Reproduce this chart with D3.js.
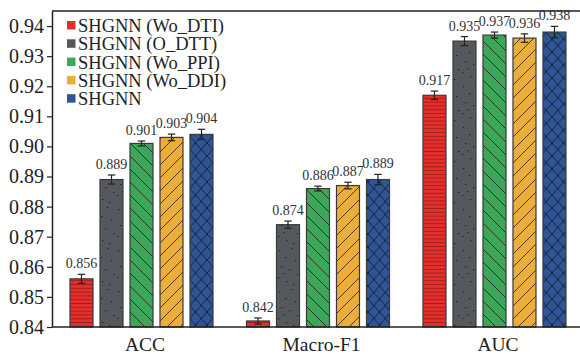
<!DOCTYPE html>
<html>
<head>
<meta charset="utf-8">
<script src="https://cdn.jsdelivr.net/npm/d3@7"></script>
<style>
  body { margin: 0; background: #fff; }
  svg text { font-family: "Liberation Serif", "Times New Roman", Times, serif !important; }
</style>
</head>
<body>
<div id="chart"></div>
<script>
// metrics on the x axis
const categories = ["ACC", "Macro-F1", "AUC"];
const models = ["SHGNN (Wo_DTI)", "SHGNN (O_DTT)", "SHGNN (Wo_PPI)", "SHGNN (Wo_DDI)", "SHGNN"];

// values per model (ACC, Macro-F1, AUC)
const woDTI = [0.856, 0.842, 0.917];
const oDTT = [0.889, 0.874, 0.935];
const woPPI = [0.901, 0.886, 0.937];
const woDDI = [0.903, 0.887, 0.936];
const shgnn = [0.904, 0.889, 0.938];

// error bar half widths
const errWoDTI = [0.0015, 0.0010, 0.0014];
const errODTT = [0.0015, 0.0012, 0.0015];
const errWoPPI = [0.0008, 0.0008, 0.0010];
const errWoDDI = [0.0011, 0.0011, 0.0014];
const errSHGNN = [0.0017, 0.0017, 0.0019];

const yTicks = [0.84, 0.85, 0.86, 0.87, 0.88, 0.89, 0.90, 0.91, 0.92, 0.93, 0.94];

const seriesValues = [woDTI, oDTT, woPPI, woDDI, shgnn];
const seriesErrors = [errWoDTI, errODTT, errWoPPI, errWoDDI, errSHGNN];
const colors = ["#e2302d", "#55595d", "#3da659", "#ebae3b", "#2f5596"];
const patternIds = ["p-hline", "p-dots", "p-back", "p-fwd", "p-cross"];

const W = 580, H = 354;
const margin = { top: 11, left: 52, bottom: 27 };
const plotBottom = H - margin.bottom;
const serif = '"Liberation Serif", "Times New Roman", Times, serif';

const svg = d3.select("#chart").append("svg")
  .attr("width", W).attr("height", H)
  .style("display", "block");

// ---- patterns ----
const defs = svg.append("defs");
// horizontal stripes (red)
let p = defs.append("pattern").attr("id", "p-hline").attr("patternUnits", "userSpaceOnUse")
  .attr("width", 8).attr("height", 3.8);
p.append("rect").attr("width", 8).attr("height", 3.8).attr("fill", colors[0]);
p.append("rect").attr("y", 2.9).attr("width", 8).attr("height", 0.9).attr("fill", "#9e1d1b");
// stipple dots (gray)
p = defs.append("pattern").attr("id", "p-dots").attr("patternUnits", "userSpaceOnUse")
  .attr("width", 23).attr("height", 41);
p.append("rect").attr("width", 23).attr("height", 41).attr("fill", colors[1]);
const dots = [[3, 4], [15, 2], [9, 11], [19, 14], [5, 20], [13, 23], [21, 28], [2, 31], [10, 35], [17, 38], [7, 27]];
dots.forEach(d => p.append("rect").attr("x", d[0]).attr("y", d[1])
  .attr("width", 1.3).attr("height", 1.1).attr("fill", "#1e1f21"));
// "\" diagonals (green)
p = defs.append("pattern").attr("id", "p-back").attr("patternUnits", "userSpaceOnUse")
  .attr("width", 13).attr("height", 13);
p.append("rect").attr("width", 13).attr("height", 13).attr("fill", colors[2]);
p.append("path").attr("d", "M-1,-1 L14,14 M-1,12 L1,14 M12,-1 L14,1")
  .attr("stroke", "#1f2a22").attr("stroke-width", 0.9);
// "/" diagonals (yellow)
p = defs.append("pattern").attr("id", "p-fwd").attr("patternUnits", "userSpaceOnUse")
  .attr("width", 13).attr("height", 13);
p.append("rect").attr("width", 13).attr("height", 13).attr("fill", colors[3]);
p.append("path").attr("d", "M-1,14 L14,-1 M-1,1 L1,-1 M12,14 L14,12")
  .attr("stroke", "#3a2c14").attr("stroke-width", 0.9);
// cross hatch (blue)
p = defs.append("pattern").attr("id", "p-cross").attr("patternUnits", "userSpaceOnUse")
  .attr("width", 11.5).attr("height", 13);
p.append("rect").attr("width", 11.5).attr("height", 13).attr("fill", colors[4]);
p.append("path").attr("d", "M0,0 L11.5,13 M0,13 L11.5,0")
  .attr("stroke", "#131a2a").attr("stroke-width", 0.9);

// ---- scales ----
const x0 = d3.scaleBand().domain(categories)
  .range([margin.left, 591]).paddingInner(0.15).paddingOuter(0.102);
const x1 = d3.scaleBand().domain(d3.range(models.length))
  .range([0, 143]).paddingInner(0.233).paddingOuter(0);
const y = d3.scaleLinear().domain([0.84, 0.945]).range([plotBottom, margin.top]);

// ---- bars ----
const rows = [];
categories.forEach((c, ci) => {
  seriesValues.forEach((vals, si) => {
    rows.push({ cat: c, s: si, v: vals[ci], e: seriesErrors[si][ci] });
  });
});
const cx = d => x0(d.cat) + x1(d.s) + x1.bandwidth() / 2;

const g = svg.append("g");
g.selectAll("rect.bar").data(rows).enter().append("rect")
  .attr("class", "bar")
  .attr("x", d => x0(d.cat) + x1(d.s))
  .attr("y", d => y(d.v))
  .attr("width", x1.bandwidth())
  .attr("height", d => y(0.84) - y(d.v))
  .attr("fill", d => "url(#" + patternIds[d.s] + ")")
  .attr("stroke", "#3a3a3a")
  .attr("stroke-width", 1.2);

// error bars
const eb = g.selectAll("g.err").data(rows).enter().append("g")
  .attr("class", "err")
  .attr("stroke", "#222").attr("stroke-width", 1.2);
eb.append("line")
  .attr("x1", cx).attr("x2", cx)
  .attr("y1", d => y(d.v + d.e)).attr("y2", d => y(d.v - d.e));
[1, -1].forEach(sign => {
  eb.append("line")
    .attr("x1", d => cx(d) - 3.7)
    .attr("x2", d => cx(d) + 3.7)
    .attr("y1", d => y(d.v + sign * d.e)).attr("y2", d => y(d.v + sign * d.e));
});

// value labels
g.selectAll("text.val").data(rows).enter().append("text")
  .attr("class", "val")
  .attr("x", cx)
  .attr("y", d => y(d.v + d.e) - 6)
  .attr("text-anchor", "middle")
  .style("font-family", serif)
  .attr("font-size", 14)
  .attr("fill", "#333")
  .text(d => d3.format(".3f")(d.v));

// ---- axes ----
const yAxis = svg.append("g")
  .attr("transform", `translate(${margin.left},0)`)
  .call(d3.axisLeft(y).tickValues(yTicks).tickFormat(d3.format(".2f")).tickSize(5).tickPadding(3).tickSizeOuter(0));
yAxis.select(".domain").attr("stroke", "#222").attr("stroke-width", 1.5);
yAxis.selectAll(".tick line").attr("stroke", "#222").attr("stroke-width", 1.2);
yAxis.selectAll(".tick text").attr("font-size", 20).attr("fill", "#222")
  .style("font-family", serif);

// category labels under each group
const xAxis = svg.append("g")
  .attr("transform", `translate(0,${plotBottom})`)
  .call(d3.axisBottom(x0).tickSize(0).tickPadding(0).tickSizeOuter(0));
xAxis.select(".domain").remove();
xAxis.selectAll(".tick text").attr("font-size", 19.5).attr("fill", "#222")
  .attr("dy", null).attr("y", 23.5)
  .style("font-family", serif);

// frame lines
svg.append("line").attr("x1", margin.left).attr("x2", W)
  .attr("y1", plotBottom).attr("y2", plotBottom)
  .attr("stroke", "#222").attr("stroke-width", 1.5);
svg.append("line").attr("x1", margin.left).attr("x2", W)
  .attr("y1", margin.top).attr("y2", margin.top)
  .attr("stroke", "#222").attr("stroke-width", 1.5);

// ---- legend ----
const legend = svg.append("g").attr("transform", "translate(67,32)");
const li = legend.selectAll("g").data(models).enter().append("g")
  .attr("transform", (d, i) => `translate(0,${i * 18.3})`);
li.append("rect").attr("x", 0).attr("y", -11).attr("width", 8.5).attr("height", 8.5)
  .attr("fill", (d, i) => colors[i]);
li.append("text").attr("x", 11).attr("y", 0)
  .attr("font-size", 18.5).attr("fill", "#222")
  .style("font-family", serif)
  .text(d => d);
</script>
</body>
</html>
